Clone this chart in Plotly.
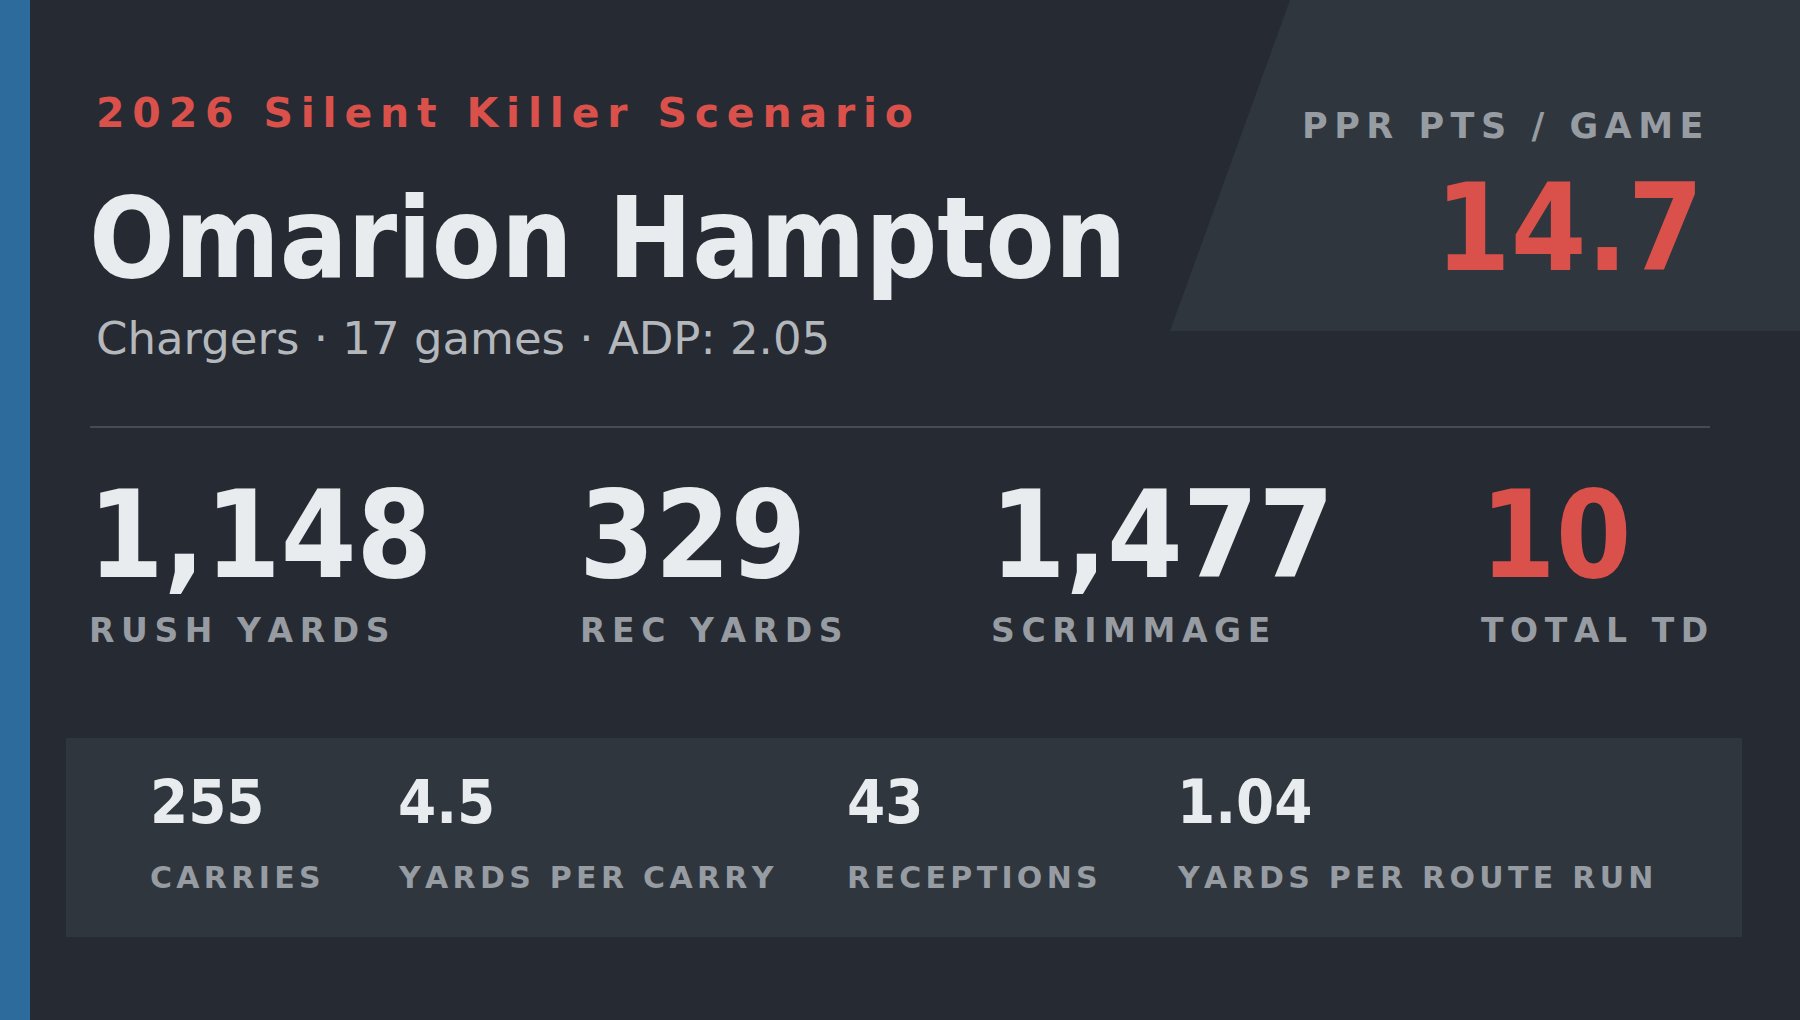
import plotly.graph_objects as go

# card content
headline = "2026 Silent Killer Scenario"
player = "Omarion Hampton"
team = "Chargers"
games = 17
adp = 2.05
ppr_label = "PPR PTS / GAME"
ppr_per_game = 14.7

main_labels = ["RUSH YARDS", "REC YARDS", "SCRIMMAGE", "TOTAL TD"]
main_values = [1148, 329, 1477, 10]
main_highlight = [False, False, False, True]

sub_labels = ["CARRIES", "YARDS PER CARRY", "RECEPTIONS", "YARDS PER ROUTE RUN"]
sub_values = ["255", "4.5", "43", "1.04"]

# layout / style
W, H = 1800, 1020
BG = "#262a33"
PANEL = "#2f363e"
BLUE = "#2c6b9b"
RED = "#d9514a"
WHITE = "#e8ecef"
GREY = "#969ca1"
SUBGREY = "#b4b8bc"
HEAVY = "DejaVu Sans Condensed, DejaVu Sans"  # big numbers + name
BOLD = "DejaVu Sans"

main_cols = [85.5, 576.5, 987.5, 1477.5]
sub_cols = [147.5, 396, 845, 1175]


def spaced(text, px):
    # fake css letter-spacing with an em space sized to px
    gap = '<span style="font-family:DejaVu Sans;font-size:%.2fpx">\u2003</span>' % px
    return gap.join("\u00a0" if c == " " else c for c in text)


fig = go.Figure()
fig.add_trace(go.Scatter(x=[0], y=[0], mode="markers", marker=dict(opacity=0), hoverinfo="skip"))


def put(x, baseline, text, size, color, family=BOLD, anchor="left", weight="bold"):
    fig.add_annotation(
        x=x, y=baseline - 0.346 * size, xref="x", yref="y",
        text=text, showarrow=False, xanchor=anchor, yanchor="middle",
        font=dict(family=family, size=size, color=color, weight=weight),
    )


# background pieces
fig.add_shape(type="rect", x0=0, x1=30, y0=0, y1=H, fillcolor=BLUE, line_width=0, layer="below")
fig.add_shape(type="path", path="M 1290 0 L 1800 0 L 1800 331 L 1170 331 Z",
              fillcolor=PANEL, line_width=0, layer="below")
fig.add_shape(type="line", x0=90, x1=1710, y0=427, y1=427, line=dict(color="#53585e", width=1.5))
fig.add_shape(type="rect", x0=66, x1=1742, y0=738, y1=937, fillcolor=PANEL, line_width=0, layer="below")

# header
put(93.5, 126.7, spaced(headline, 7.8), 41, RED)
put(87, 277, player, 112, WHITE, family=HEAVY)
put(93.5, 354, f"{team} · {games} games · ADP: {adp:.2f}", 45, SUBGREY, weight="normal")

put(1705, 138, spaced(ppr_label, 6.5), 35, GREY, anchor="right")
put(1705.5, 270, f"{ppr_per_game:.1f}", 121, RED, family=HEAVY, anchor="right")

# main stats
for x, lab, val, hi in zip(main_cols, main_labels, main_values, main_highlight):
    put(x, 577, f"{val:,}", 121, RED if hi else WHITE, family=HEAVY)
    put(x + 1, 642, spaced(lab, 6.6), 33, GREY)

# bottom panel
for x, lab, val in zip(sub_cols, sub_labels, sub_values):
    put(x, 822.5, val, 61, WHITE, family=HEAVY)
    put(x, 887.5, spaced(lab, 4.3), 30, GREY)

fig.update_layout(
    width=W, height=H,
    margin=dict(l=0, r=0, t=0, b=0),
    paper_bgcolor=BG, plot_bgcolor=BG,
    showlegend=False,
    xaxis=dict(range=[0, W], visible=False, fixedrange=True),
    yaxis=dict(range=[H, 0], visible=False, fixedrange=True),
)

fig.write_html("out.html", config={"displayModeBar": False},
               post_script="document.body.style.margin='0';document.body.style.overflow='hidden';")
